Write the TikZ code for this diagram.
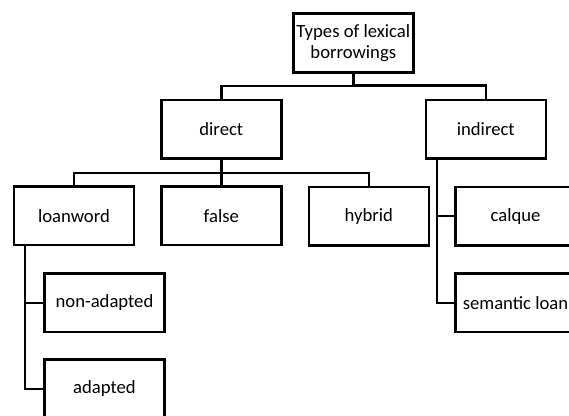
\documentclass[tikz,border=0pt]{standalone}
\usepackage{fontspec}
\setmainfont{Carlito}
\begin{document}
\begin{tikzpicture}[x=0.75pt,y=-0.75pt,line width=1.9pt]
				\clip (0,0) rectangle (569,416);
				
				\begin{scope}[every node/.style={rectangle,draw,line width=1.9pt,minimum width=90pt,minimum height=43.9pt,inner sep=1pt,align=center,font=\fontsize{14}{15.5}\selectfont}]
					\node (types) at (353.3,43) {Types of lexical\\borrowings};
					\node (direct) at (221.3,129.5) {direct};
					\node (indirect) at (485.8,129.3) {indirect};
					\node (loanword) at (74,215.9) {loanword};
					\node (false) at (221.3,215.9) {false};
					\node (hybrid) at (368.8,216.2) {hybrid};
					\node (nonadapted) at (104.5,302.8) {non-adapted};
					\node (adapted) at (104.5,388.8) {adapted};
					\node (calque) at (515.5,216.2) {calque};
					\node (semanticloan) at (515.5,302.8) {semantic loan};
				\end{scope}
				
				\draw (direct.north) -- ++(0,-13) -| (types.south);
				\draw (indirect.north) -- ++(0,-13) -| (types.south);
				\draw (loanword.north) -- ++(0,-12.5) -| (direct.south);
				\draw (false.north) -- (direct.south);
				\draw (hybrid.north) -- ++(0,-12.5) -| (direct.south);
				
				\draw ([xshift=9.2pt]loanword.south west) |- (nonadapted.west);
				\draw ([xshift=9.2pt]loanword.south west) |- (adapted.west);
				\draw ([xshift=9.2pt]indirect.south west) |- (calque.west);
				\draw ([xshift=9.2pt]indirect.south west) |- (semanticloan.west);
			\end{tikzpicture}
\end{document}
